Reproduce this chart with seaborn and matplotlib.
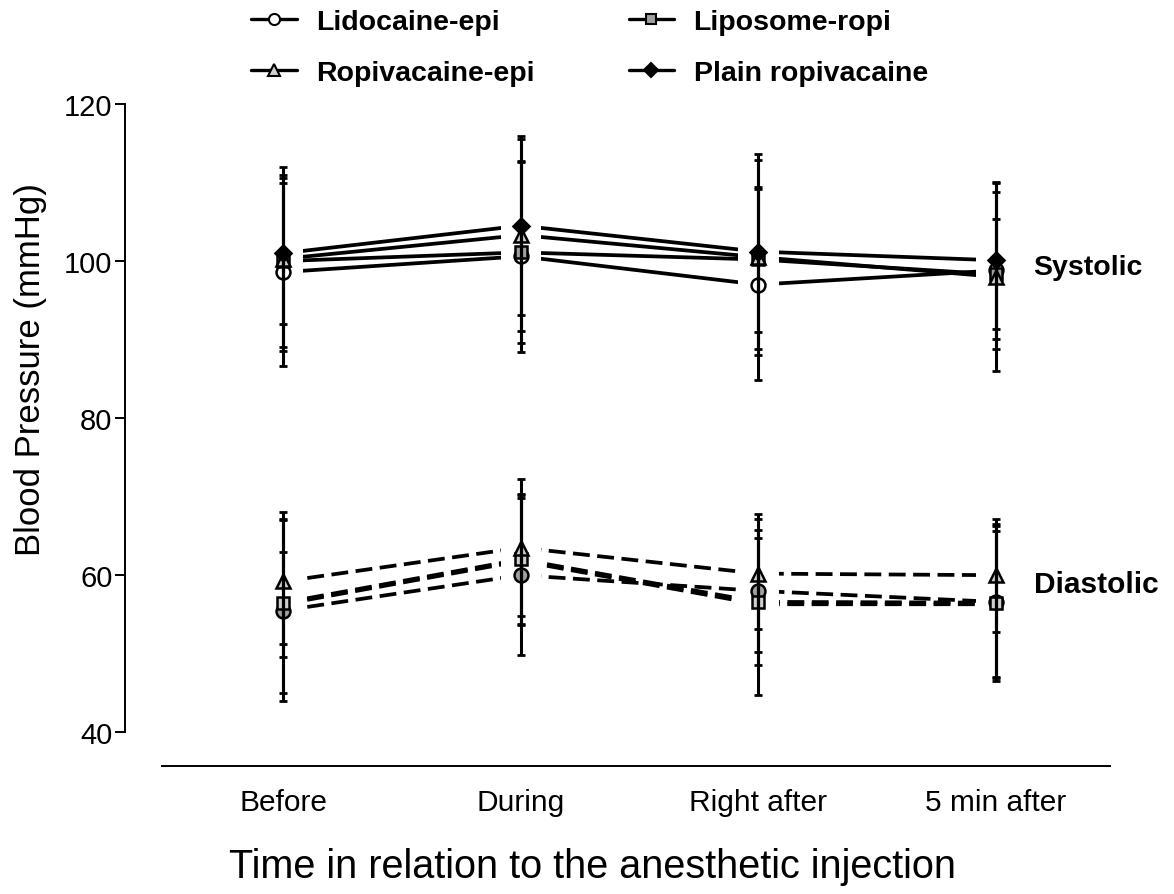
"""Blood pressure around the anesthetic injection"""
import matplotlib
matplotlib.use("Agg")
import matplotlib.pyplot as plt
from matplotlib.lines import Line2D
import numpy as np
import pandas as pd
import seaborn as sns

# time points
times = ["Before", "During", "Right after", "5 min after"]
groups = ["Lidocaine-epi", "Liposome-ropi", "Ropivacaine-epi", "Plain ropivacaine"]

# systolic means / SD (mmHg)
sys_lido = [98.6, 100.6, 97.0, 98.8]
sys_lipo = [100.0, 101.1, 100.2, 98.3]
sys_ropi_epi = [100.3, 103.3, 100.5, 98.0]
sys_plain = [101.0, 104.5, 101.2, 100.1]
sys_sd_lido = [12.0, 12.2, 12.2, 10.0]
sys_sd_lipo = [11.0, 11.5, 9.2, 7.0]
sys_sd_ropi_epi = [11.7, 12.2, 12.4, 12.0]
sys_sd_plain = [9.0, 11.4, 12.4, 10.0]

# diastolic means / SD (mmHg)
dia_lido = [55.5, 60.0, 58.0, 56.6]
dia_lipo = [56.5, 62.0, 56.6, 56.5]
dia_ropi_epi = [59.2, 63.5, 60.2, 60.0]
dia_plain = [56.3, 61.8, 56.3, 56.3]
dia_sd_lido = [11.5, 10.2, 7.8, 9.7]
dia_sd_lipo = [11.5, 8.3, 8.1, 10.0]
dia_sd_ropi_epi = [8.0, 8.7, 7.0, 7.2]
dia_sd_plain = [6.7, 8.0, 11.5, 9.3]

rows = []
series = [
    ("Systolic", sys_lido, sys_lipo, sys_ropi_epi, sys_plain,
     sys_sd_lido, sys_sd_lipo, sys_sd_ropi_epi, sys_sd_plain),
    ("Diastolic", dia_lido, dia_lipo, dia_ropi_epi, dia_plain,
     dia_sd_lido, dia_sd_lipo, dia_sd_ropi_epi, dia_sd_plain),
]
for s in series:
    meas = s[0]
    means = s[1:5]
    sds = s[5:9]
    for g, m, sd in zip(groups, means, sds):
        for i, t in enumerate(times):
            rows.append({"measure": meas, "group": g, "t": i, "time": t,
                         "mean": m[i], "sd": sd[i]})
df = pd.DataFrame(rows)

sns.set_theme(style="ticks")
plt.rcParams["font.family"] = ["Liberation Sans", "DejaVu Sans"]
plt.rcParams["text.color"] = "black"
plt.rcParams["axes.labelcolor"] = "black"
plt.rcParams["xtick.color"] = "black"
plt.rcParams["ytick.color"] = "black"
plt.rcParams["axes.edgecolor"] = "black"

fig = plt.figure(figsize=(11.74, 8.95), dpi=100)
ax = fig.add_axes([0.138, 0.143, 0.8075, 0.7397])

# connecting lines
sns.lineplot(data=df, x="t", y="mean", hue="group", style="measure",
             palette=["black"] * 4, dashes={"Systolic": "", "Diastolic": (4.5, 2)},
             estimator=None, lw=2.7, legend=False, ax=ax, zorder=2)

# Prism-style gaps around the time points
for i in range(len(times)):
    ax.axvspan(i - 0.085, i + 0.085, color="white", zorder=2.2, lw=0)

markers = {"Lidocaine-epi": "o", "Liposome-ropi": "s",
           "Ropivacaine-epi": "^", "Plain ropivacaine": "D"}
fills = {
    "Systolic": {"Lidocaine-epi": "white", "Liposome-ropi": "#a0a0a0",
                 "Ropivacaine-epi": "#d0d0d0", "Plain ropivacaine": "black"},
    "Diastolic": {"Lidocaine-epi": "#a0a0a0", "Liposome-ropi": "#cfcfcf",
                  "Ropivacaine-epi": "#d0d0d0", "Plain ropivacaine": None},
}
sizes = {"o": 10, "s": 9, "^": 10, "D": 8.5}

for (meas, g), sub in df.groupby(["measure", "group"], sort=False):
    fc = fills[meas][g]
    if fc is not None:
        mk = markers[g]
        ax.plot(sub["t"], sub["mean"], ls="none", marker=mk, ms=sizes[mk],
                mfc=fc, mec="black", mew=1.8, zorder=3)
    ax.errorbar(sub["t"], sub["mean"], yerr=sub["sd"], fmt="none",
                ecolor="black", elinewidth=2.2, capsize=3, capthick=2, zorder=4)

ax.set_xlim(-0.51, 3.48)
ax.set_ylim(35.7, 120)
ax.set_yticks([40, 60, 80, 100, 120])
ax.set_xticks(range(len(times)))
ax.set_xticklabels(times)

sns.despine(ax=ax)
ax.spines["left"].set_position(("outward", 26.6))
ax.spines["left"].set_bounds(40, 120)
ax.spines["left"].set_linewidth(1.4)
ax.spines["bottom"].set_linewidth(1.4)
ax.tick_params(axis="y", length=7, width=1.4, labelsize=21, pad=2)
ax.tick_params(axis="x", length=0, labelsize=21.5, pad=16)

ax.set_ylabel("Blood Pressure (mmHg)", fontsize=25, va="center", ha="center")
ax.yaxis.set_label_coords(-0.139, 0.601)
ax.set_xlabel("Time in relation to the anesthetic injection", fontsize=28.5,
              va="center", ha="center")
ax.xaxis.set_label_coords(0.4536, -0.151)

ax.text(3.155, 99.2, "Systolic", fontsize=20.5, fontweight="bold",
        ha="left", va="center")
ax.text(3.16, 58.9, "Diastolic", fontsize=21.5, fontweight="bold",
        ha="left", va="center")

handles = []
for g in ["Lidocaine-epi", "Ropivacaine-epi", "Liposome-ropi", "Plain ropivacaine"]:
    mk = markers[g]
    handles.append(Line2D([], [], color="black", lw=2.4, marker=mk,
                          ms=sizes[mk] * 0.8, mfc=fills["Systolic"][g],
                          mec="black", mew=1.5, label=g))
fig.legend(handles=handles, ncol=2, loc="upper left",
           bbox_to_anchor=(0.214, 0.989), frameon=False, borderpad=0,
           borderaxespad=0, prop={"size": 20.5, "weight": "bold"},
           handlelength=1.6, handletextpad=0.68, columnspacing=3.3,
           labelspacing=0.88)

fig.savefig("out.png", dpi=100)
